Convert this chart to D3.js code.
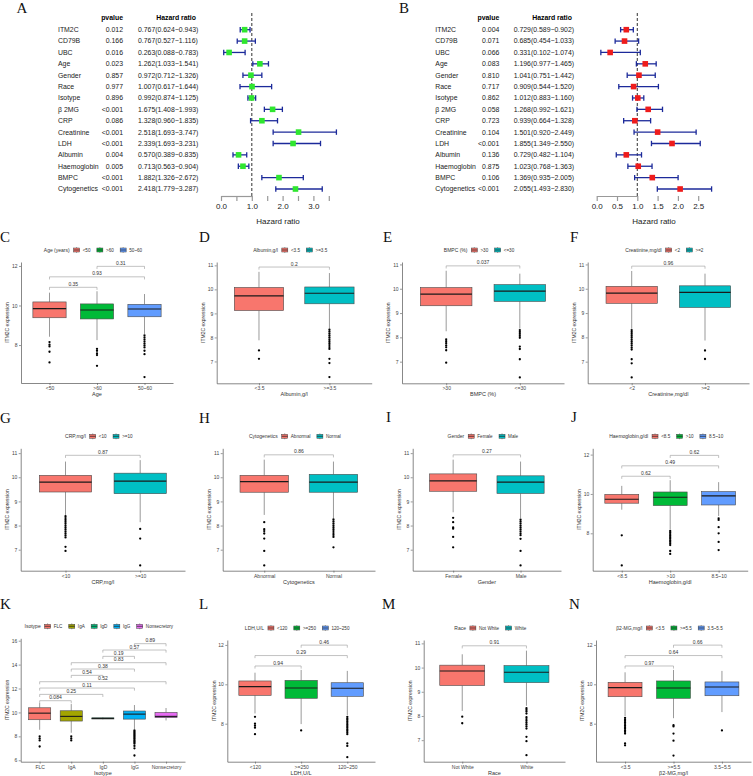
<!DOCTYPE html>
<html>
<head>
<meta charset="utf-8">
<script src="https://cdn.jsdelivr.net/npm/d3@7"></script>
<style>
body { margin: 0; background: #fff; }
text { font-family: "Liberation Sans", Arial, sans-serif; }
</style>
</head>
<body>
<div id="chart"></div>
<script>
// ---------- forest plots (A: univariate, B: multivariate) ----------
var forestVars = ["ITM2C", "CD79B", "UBC", "Age", "Gender", "Race", "Isotype", "\u03b2 2MG",
                  "CRP", "Creatinine", "LDH", "Albumin", "Haemoglobin", "BMPC", "Cytogenetics"];

var uniP  = ["0.012", "0.166", "0.016", "0.023", "0.857", "0.977", "0.896", "<0.001",
             "0.086", "<0.001", "<0.001", "0.004", "0.005", "<0.001", "<0.001"];
var uniHR = [0.767, 0.767, 0.263, 1.262, 0.972, 1.007, 0.992, 1.675, 1.328, 2.518, 2.339, 0.570, 0.713, 1.882, 2.418];
var uniLo = [0.624, 0.527, 0.088, 1.033, 0.712, 0.617, 0.874, 1.408, 0.960, 1.693, 1.693, 0.389, 0.563, 1.326, 1.779];
var uniHi = [0.943, 1.116, 0.783, 1.541, 1.326, 1.644, 1.125, 1.993, 1.835, 3.747, 3.231, 0.835, 0.904, 2.672, 3.287];

var multiP  = ["0.004", "0.071", "0.066", "0.083", "0.810", "0.717", "0.862", "0.058",
               "0.723", "0.104", "<0.001", "0.136", "0.875", "0.106", "<0.001"];
var multiHR = [0.729, 0.685, 0.331, 1.196, 1.041, 0.909, 1.012, 1.268, 0.939, 1.501, 1.855, 0.729, 1.023, 1.369, 2.055];
var multiLo = [0.589, 0.454, 0.102, 0.977, 0.751, 0.544, 0.883, 0.992, 0.664, 0.920, 1.349, 0.482, 0.768, 0.935, 1.493];
var multiHi = [0.902, 1.033, 1.074, 1.465, 1.442, 1.520, 1.160, 1.621, 1.328, 2.449, 2.550, 1.104, 1.363, 2.005, 2.830];

var uniTicks   = [0, 0.5, 1, 1.5, 2, 2.5, 3, 3.5];
var uniLabels  = [0, 1, 2, 3];
var multiTicks = [0, 0.5, 1, 1.5, 2, 2.5];

// ---------- box plots: [lower whisker, q1, median, q3, upper whisker] ----------
var ageCats  = ["<50", ">60", "50~60"];
var ageStats = [[8.42, 9.38, 9.84, 10.18, 10.65], [8.25, 9.32, 9.77, 10.08, 10.72], [8.56, 9.43, 9.82, 10.06, 10.58]];
var ageOut   = [[8.15, 8.02, 7.93, 7.66, 7.12], [7.81, 7.71, 7.58, 7.49, 6.95],
                [8.49, 8.39, 8.29, 8.19, 8.08, 7.98, 7.88, 7.71, 7.54, 6.38]];
var ageCmp   = [["<50", ">60"], ["<50", "50~60"], [">60", "50~60"]];
var ageP     = ["0.35", "0.93", "0.31"];

var albCats  = ["<3.5", ">=3.5"];
var albStats = [[7.88, 9.12, 9.73, 10.08, 10.73], [8.36, 9.40, 9.84, 10.10, 10.68]];
var albOut   = [[7.46, 7.11], [8.32, 8.24, 8.16, 8.08, 8.0, 7.92, 7.84, 7.76, 7.68, 7.6, 7.52, 7.11, 6.93, 6.35]];
var albCmp   = [["<3.5", ">=3.5"]];
var albP     = ["0.2"];

var bmpcCats  = [">30", "<=30"];
var bmpcStats = [[8.25, 9.30, 9.78, 10.05, 10.74], [8.36, 9.48, 9.90, 10.17, 10.62]];
var bmpcOut   = [[7.92, 7.84, 7.76, 7.67, 7.59, 7.47, 6.96], [8.3, 8.22, 8.14, 8.06, 7.98, 7.62, 7.52, 7.1, 6.35]];
var bmpcCmp   = [[">30", "<=30"]];
var bmpcP     = ["0.037"];

var creCats  = ["<2", ">=2"];
var creStats = [[8.35, 9.40, 9.82, 10.10, 10.73], [7.87, 9.23, 9.85, 10.12, 10.62]];
var creOut   = [[8.3, 8.22, 8.14, 8.06, 7.98, 7.9, 7.82, 7.74, 7.66, 7.58, 7.5, 7.1, 6.93, 6.35], [7.46, 7.11]];
var creCmp   = [["<2", ">=2"]];
var creP     = ["0.96"];

var crpCats  = ["<10", ">=10"];
var crpStats = [[8.44, 9.39, 9.80, 10.08, 10.65], [8.14, 9.32, 9.84, 10.17, 10.71]];
var crpOut   = [[8.39, 8.31, 8.23, 8.15, 8.07, 7.99, 7.91, 7.83, 7.75, 7.67, 7.59, 7.51, 7.12, 6.95], [7.86, 7.46, 6.35]];
var crpCmp   = [["<10", ">=10"]];
var crpP     = ["0.87"];

var cytoCats  = ["Abnormal", "Normal"];
var cytoStats = [[8.44, 9.38, 9.82, 10.08, 10.73], [8.30, 9.38, 9.80, 10.12, 10.65]];
var cytoOut   = [[8.14, 7.85, 7.77, 7.67, 7.46, 6.95, 6.35],
                 [8.25, 8.17, 8.09, 8.01, 7.93, 7.85, 7.77, 7.69, 7.61, 7.53, 7.1]];
var cytoCmp   = [["Abnormal", "Normal"]];
var cytoP     = ["0.86"];

var sexCats  = ["Female", "Male"];
var sexStats = [[8.55, 9.42, 9.85, 10.14, 10.73], [8.30, 9.33, 9.80, 10.06, 10.65]];
var sexOut   = [[8.32, 8.14, 7.92, 7.87, 7.53, 7.1],
                [8.24, 8.16, 8.08, 8.0, 7.92, 7.84, 7.76, 7.68, 7.6, 7.45, 6.95, 6.35]];
var sexCmp   = [["Female", "Male"]];
var sexP     = ["0.27"];

var hbCats  = ["<8.5", ">10", "8.5~10"];
var hbStats = [[9.20, 9.53, 9.73, 9.98, 10.41], [8.20, 9.41, 9.83, 10.10, 10.70], [8.88, 9.44, 9.90, 10.12, 10.60]];
var hbOut   = [[7.9, 6.37], [8.12, 8.04, 7.96, 7.88, 7.8, 7.72, 7.64, 7.56, 7.48, 7.4, 7.1, 6.95],
               [8.76, 8.68, 8.31, 8.0, 7.56, 7.15]];
var hbCmp   = [["<8.5", ">10"], ["<8.5", "8.5~10"], [">10", "8.5~10"]];
var hbP     = ["0.62", "0.49", "0.62"];

var isoCats  = ["FLC", "IgA", "IgD", "IgG", "Nonsecretory"];
var isoStats = [[8.55, 9.39, 9.94, 10.39, 10.78], [8.30, 9.28, 9.67, 10.14, 10.70], [9.42, 9.45, 9.50, 9.55, 9.60],
                [8.61, 9.44, 9.86, 10.12, 10.62], [9.33, 9.56, 9.67, 10.0, 10.37]];
var isoOut   = [[8.0, 7.83, 7.66, 7.15], [8.0, 7.83, 7.66], [],
                [8.49, 8.39, 8.29, 8.19, 8.09, 7.99, 7.89, 7.79, 7.69, 7.59, 7.49, 7.39, 7.2, 7.0, 6.4], []];
var isoCmp   = [["FLC", "IgA"], ["FLC", "IgD"], ["FLC", "IgG"], ["FLC", "Nonsecretory"], ["IgA", "IgD"],
                ["IgA", "IgG"], ["IgA", "Nonsecretory"], ["IgD", "IgG"], ["IgD", "Nonsecretory"], ["IgG", "Nonsecretory"]];
var isoP     = ["0.084", "0.25", "0.11", "0.52", "0.54", "0.38", "0.83", "0.19", "0.57", "0.89"];

var ldhCats  = ["<120", ">=250", "120~250"];
var ldhStats = [[8.52, 9.44, 9.88, 10.17, 10.59], [7.98, 9.29, 9.81, 10.20, 10.73], [8.44, 9.39, 9.80, 10.08, 10.68]];
var ldhOut   = [[8.35, 8.0, 7.9, 7.8, 7.47], [7.66],
                [8.35, 8.27, 8.19, 8.11, 8.03, 7.95, 7.87, 7.79, 7.71, 7.63, 7.55, 7.47, 7.0, 6.87, 6.3]];
var ldhCmp   = [["<120", ">=250"], ["<120", "120~250"], [">=250", "120~250"]];
var ldhP     = ["0.94", "0.29", "0.46"];

var raceCats  = ["Not White", "White"];
var raceStats = [[8.21, 9.26, 9.86, 10.10, 10.55], [8.42, 9.38, 9.81, 10.08, 10.70]];
var raceOut   = [[7.97, 7.7], [8.32, 8.25, 8.18, 8.1, 7.95, 7.87, 7.8, 7.72, 7.64, 7.56, 7.48, 7.14, 6.96, 6.38]];
var raceCmp   = [["Not White", "White"]];
var raceP     = ["0.91"];

var b2mCats  = ["<3.5", ">=5.5", "3.5~5.5"];
var b2mStats = [[8.39, 9.37, 9.83, 10.10, 10.61], [8.28, 9.29, 9.81, 10.17, 10.73], [8.59, 9.42, 9.86, 10.12, 10.68]];
var b2mOut   = [[8.3, 8.22, 8.14, 8.06, 7.98, 7.9, 7.82, 7.74, 7.66, 7.58, 7.5, 7.0, 6.9],
                [7.92, 7.86, 7.5, 7.14, 6.38], [7.66]];
var b2mCmp   = [["<3.5", ">=5.5"], ["<3.5", "3.5~5.5"], [">=5.5", "3.5~5.5"]];
var b2mP     = ["0.97", "0.64", "0.66"];

var ticks5  = [7, 8, 9, 10, 11];
var ticks3  = [8, 10, 12];
var ticksK  = [6, 8, 10, 12, 14, 16];

// ---------- layout / style ----------
var W = 753, H = 776;
var pal = {
    2: ["#F8766D", "#00BFC4"],
    3: ["#F8766D", "#00BA38", "#619CFF"],
    5: ["#F8766D", "#A3A500", "#00BF7D", "#00B0F6", "#E76BF3"]
};

var svg = d3.select("#chart").append("svg")
    .attr("width", W).attr("height", H)
    .style("display", "block");

function letter(t, x, y) {
    svg.append("text").attr("x", x).attr("y", y).text(t)
        .style("font-family", "'Liberation Serif', 'Times New Roman', serif")
        .style("font-size", "15px").attr("fill", "#111");
}

function forest(o) {
    var x = d3.scaleLinear().domain([0, 1]).range([o.x0, o.x0 + o.unit]);
    var y = d3.scalePoint().domain(forestVars).range([29.7, 189]);
    var g = svg.append("g");
    var fs = "6.9px";

    g.append("text").attr("x", o.pX).attr("y", 17.5).attr("dy", "0.35em")
        .attr("text-anchor", "end").style("font-size", fs).style("font-weight", "bold").text("pvalue");
    g.append("text").attr("x", o.hrHeadX).attr("y", 17.5).attr("dy", "0.35em")
        .attr("text-anchor", "end").style("font-size", fs).style("font-weight", "bold").text("Hazard ratio");

    var f3 = d3.format(".3f");
    forestVars.forEach(function(v, i) {
        var yy = y(v);
        g.append("text").attr("x", o.nameX).attr("y", yy).attr("dy", "0.35em")
            .style("font-size", fs).attr("fill", "#222").text(v);
        g.append("text").attr("x", o.pX).attr("y", yy).attr("dy", "0.35em")
            .attr("text-anchor", "end").style("font-size", fs).attr("fill", "#222").text(o.p[i]);
        g.append("text").attr("x", o.hrX).attr("y", yy).attr("dy", "0.35em")
            .style("font-size", fs).attr("fill", "#222")
            .text(f3(o.hr[i]) + "(" + f3(o.lo[i]) + "\u2212" + f3(o.hi[i]) + ")");
    });

    // reference line at HR = 1
    g.append("line").attr("x1", x(1)).attr("x2", x(1)).attr("y1", 13).attr("y2", 196)
        .attr("stroke", "#444").attr("stroke-width", 1.1).attr("stroke-dasharray", "3,2");

    var ci = "#1c2a9a";
    forestVars.forEach(function(v, i) {
        var yy = y(v);
        g.append("line").attr("x1", x(o.lo[i])).attr("x2", x(o.hi[i])).attr("y1", yy).attr("y2", yy)
            .attr("stroke", ci).attr("stroke-width", 1.3);
        [o.lo[i], o.hi[i]].forEach(function(e) {
            g.append("line").attr("x1", x(e)).attr("x2", x(e)).attr("y1", yy - 2.7).attr("y2", yy + 2.7)
                .attr("stroke", ci).attr("stroke-width", 1.3);
        });
        g.append("rect").attr("x", x(o.hr[i]) - 2.8).attr("y", yy - 2.8)
            .attr("width", 5.6).attr("height", 5.6).attr("fill", o.color);
    });

    var ax = g.append("g").attr("transform", "translate(0,196)")
        .call(d3.axisBottom(x).tickValues(o.ticks).tickSize(5).tickSizeOuter(0).tickPadding(2)
            .tickFormat(function(d) { return o.labels.indexOf(d) >= 0 ? d3.format(".1f")(d) : ""; }));
    ax.select(".domain").attr("stroke", "#999").attr("stroke-width", 1.2);
    ax.selectAll(".tick line").attr("stroke", "#999").attr("stroke-width", 1.2);
    ax.selectAll(".tick text").style("font-size", "8px").attr("fill", "#222")
        .style("font-family", "'Liberation Sans', Arial, sans-serif");

    g.append("text").attr("x", o.titleX).attr("y", 221).attr("dy", "0.35em")
        .attr("text-anchor", "middle").style("font-size", "8px").attr("fill", "#222").text("Hazard ratio");
}

function boxPanel(d, L) {
    var n = d.cats.length;
    var col = pal[n];
    var x = d3.scalePoint().domain(d.cats).range([L.left, L.right]).padding(0.6);
    var y = d3.scaleLinear().domain(L.dom).range([L.bottom, L.top]);
    var bw = x.step() * 0.7;
    var g = svg.append("g");

    var yAx = g.append("g").attr("transform", "translate(" + L.left + ",0)")
        .call(d3.axisLeft(y).tickValues(d.ticks).tickFormat(d3.format("d"))
            .tickSize(2).tickSizeOuter(0).tickPadding(1.5));
    var xAx = g.append("g").attr("transform", "translate(0," + L.bottom + ")")
        .call(d3.axisBottom(x).tickSize(2).tickSizeOuter(0).tickPadding(1.5));
    [yAx, xAx].forEach(function(a) {
        a.select(".domain").attr("stroke", "#555").attr("stroke-width", 0.7);
        a.selectAll(".tick line").attr("stroke", "#555").attr("stroke-width", 0.6);
        a.selectAll(".tick text").style("font-size", "5px").attr("fill", "#444")
            .style("font-family", "'Liberation Sans', Arial, sans-serif");
    });

    d.cats.forEach(function(c, i) {
        var s = d.stats[i], cx = x(c);
        g.append("line").attr("x1", cx).attr("x2", cx).attr("y1", y(s[0])).attr("y2", y(s[1]))
            .attr("stroke", "#555").attr("stroke-width", 0.6);
        g.append("line").attr("x1", cx).attr("x2", cx).attr("y1", y(s[3])).attr("y2", y(s[4]))
            .attr("stroke", "#555").attr("stroke-width", 0.6);
        g.append("rect").attr("x", cx - bw / 2).attr("y", y(s[3]))
            .attr("width", bw).attr("height", Math.max(0.6, y(s[1]) - y(s[3])))
            .attr("fill", col[i]).attr("stroke", "#4a4a4a").attr("stroke-width", 0.6);
        g.append("line").attr("x1", cx - bw / 2).attr("x2", cx + bw / 2).attr("y1", y(s[2])).attr("y2", y(s[2]))
            .attr("stroke", "#1a1a1a").attr("stroke-width", 1.1);
        g.selectAll(null).data(d.out[i]).enter().append("circle")
            .attr("cx", cx).attr("cy", function(v) { return y(v); })
            .attr("r", 1.15).attr("fill", "#000");
    });

    // significance brackets
    var base = d3.max(d.stats, function(s) { return s[4]; }) + 0.2;
    d.cmp.forEach(function(pair, i) {
        var yp = y(base + i * 0.53);
        var x1 = x(pair[0]), x2 = x(pair[1]);
        g.append("path").attr("d", "M" + x1 + "," + (yp + 2.6) + "V" + yp + "H" + x2 + "V" + (yp + 2.6))
            .attr("fill", "none").attr("stroke", "#999").attr("stroke-width", 0.6);
        g.append("text").attr("x", (x1 + x2) / 2).attr("y", yp - 1.4).attr("text-anchor", "middle")
            .style("font-size", "5px").attr("fill", "#333").text(d.p[i]);
    });

    // axis titles
    g.append("text").attr("transform", "translate(" + (L.left - 13.5) + "," + ((L.top + L.bottom) / 2) + ") rotate(-90)")
        .attr("text-anchor", "middle").attr("dy", "0.35em").style("font-size", "5px").attr("fill", "#333")
        .text("ITM2C  expression");
    g.append("text").attr("x", (L.left + L.right) / 2).attr("y", L.bottom + 11).attr("dy", "0.35em")
        .attr("text-anchor", "middle").style("font-size", "5.5px").attr("fill", "#333").text(d.xTitle);

    // legend
    var lg = g.append("g");
    var lx = 0, ly = L.top - 12;
    var t = lg.append("text").attr("x", lx).attr("y", ly).attr("dy", "0.35em")
        .style("font-size", "5px").attr("fill", "#333").text(d.legTitle);
    lx += t.node().getComputedTextLength() + 3.5;
    d.cats.forEach(function(c, i) {
        var kx = lx + 3.4;
        lg.append("line").attr("x1", kx).attr("x2", kx).attr("y1", ly - 3).attr("y2", ly + 3)
            .attr("stroke", "#555").attr("stroke-width", 0.5);
        lg.append("rect").attr("x", lx + 0.4).attr("y", ly - 2).attr("width", 6).attr("height", 4)
            .attr("fill", col[i]).attr("stroke", "#444").attr("stroke-width", 0.5);
        lg.append("line").attr("x1", lx + 0.4).attr("x2", lx + 6.4).attr("y1", ly).attr("y2", ly)
            .attr("stroke", "#222").attr("stroke-width", 0.7);
        lx += 9.5;
        var lt = lg.append("text").attr("x", lx).attr("y", ly).attr("dy", "0.35em")
            .style("font-size", "4.6px").attr("fill", "#333").text(c);
        lx += lt.node().getComputedTextLength() + 6;
    });
    var lw = lx - 6;
    lg.attr("transform", "translate(" + ((L.left + L.right) / 2 - 4 - lw / 2) + ",0)");

    letter(L.tag, L.tx, L.ty);
}

// ---------- draw ----------
letter("A", 16.5, 13);
letter("B", 399, 13);

forest({ hr: uniHR, lo: uniLo, hi: uniHi, p: uniP, ticks: uniTicks, labels: uniLabels,
         x0: 221, unit: 30.8, nameX: 58, pX: 123, hrX: 138, hrHeadX: 196, titleX: 278, color: "#2fe62f" });

forest({ hr: multiHR, lo: multiLo, hi: multiHi, p: multiP, ticks: multiTicks, labels: multiTicks,
         x0: 596.7, unit: 40.6, nameX: 435.3, pX: 499.3, hrX: 513.7, hrHeadX: 572, titleX: 654, color: "#ee1c1c" });

var panels = [
    [{ cats: ageCats,  stats: ageStats,  out: ageOut,  cmp: ageCmp,  p: ageP,  ticks: ticks3, legTitle: "Age (years)", xTitle: "Age" },
     { tag: "C", tx: 0,   ty: 242, left: 21,    right: 173,   top: 262,   bottom: 383,   dom: [6.08, 12.2] }],
    [{ cats: albCats,  stats: albStats,  out: albOut,  cmp: albCmp,  p: albP,  ticks: ticks5, legTitle: "Albumin,g/l", xTitle: "Albumin,g/l" },
     { tag: "D", tx: 199, ty: 242, left: 216.7, right: 371.7, top: 262,   bottom: 383.3, dom: [6.09, 11.14] }],
    [{ cats: bmpcCats, stats: bmpcStats, out: bmpcOut, cmp: bmpcCmp, p: bmpcP, ticks: ticks5, legTitle: "BMPC (%)", xTitle: "BMPC (%)" },
     { tag: "E", tx: 383, ty: 242, left: 402,   right: 564,   top: 262,   bottom: 383.3, dom: [6.11, 11.1] }],
    [{ cats: creCats,  stats: creStats,  out: creOut,  cmp: creCmp,  p: creP,  ticks: ticks5, legTitle: "Creatinine,mg/dl", xTitle: "Creatinine,mg/dl" },
     { tag: "F", tx: 570, ty: 242, left: 587.7, right: 749,   top: 262,   bottom: 383.3, dom: [6.11, 11.1] }],
    [{ cats: crpCats,  stats: crpStats,  out: crpOut,  cmp: crpCmp,  p: crpP,  ticks: ticks5, legTitle: "CRP,mg/l", xTitle: "CRP,mg/l" },
     { tag: "G", tx: 0,   ty: 423, left: 20.7,  right: 185,   top: 448.3, bottom: 570.7, dom: [6.13, 11.2] }],
    [{ cats: cytoCats, stats: cytoStats, out: cytoOut, cmp: cytoCmp, p: cytoP, ticks: ticks5, legTitle: "Cytogenetics", xTitle: "Cytogenetics" },
     { tag: "H", tx: 199, ty: 423, left: 222.7, right: 375,   top: 448.3, bottom: 570.7, dom: [6.13, 11.2] }],
    [{ cats: sexCats,  stats: sexStats,  out: sexOut,  cmp: sexCmp,  p: sexP,  ticks: ticks5, legTitle: "Gender", xTitle: "Gender" },
     { tag: "I", tx: 386, ty: 422, left: 412.7, right: 561,   top: 448.3, bottom: 570.7, dom: [6.13, 11.2] }],
    [{ cats: hbCats,   stats: hbStats,   out: hbOut,   cmp: hbCmp,   p: hbP,   ticks: ticks3, legTitle: "Haemoglobin,g/dl", xTitle: "Haemoglobin,g/dl" },
     { tag: "J", tx: 571, ty: 422, left: 592.7, right: 747.7, top: 448.3, bottom: 570.7, dom: [6.1, 12.32] }],
    [{ cats: isoCats,  stats: isoStats,  out: isoOut,  cmp: isoCmp,  p: isoP,  ticks: ticksK, legTitle: "Isotype", xTitle: "Isotype" },
     { tag: "K", tx: 0,   ty: 609, left: 20.7,  right: 185,   top: 638.3, bottom: 761.7, dom: [5.88, 16.2] }],
    [{ cats: ldhCats,  stats: ldhStats,  out: ldhOut,  cmp: ldhCmp,  p: ldhP,  ticks: ticks3, legTitle: "LDH,U/L", xTitle: "LDH,U/L" },
     { tag: "L", tx: 199, ty: 609, left: 227.3, right: 375,   top: 640,   bottom: 761.7, dom: [6.07, 12.25] }],
    [{ cats: raceCats, stats: raceStats, out: raceOut, cmp: raceCmp, p: raceP, ticks: ticks5, legTitle: "Race", xTitle: "Race" },
     { tag: "M", tx: 382, ty: 609, left: 423.7, right: 565,   top: 640,   bottom: 761.7, dom: [6.11, 11.14] }],
    [{ cats: b2mCats,  stats: b2mStats,  out: b2mOut,  cmp: b2mCmp,  p: b2mP,  ticks: ticks3, legTitle: "\u03b22-MG,mg/l", xTitle: "\u03b22-MG,mg/l" },
     { tag: "N", tx: 569, ty: 609, left: 596,   right: 751,   top: 640,   bottom: 761.7, dom: [6.07, 12.25] }]
];

panels.forEach(function(p) { boxPanel(p[0], p[1]); });
</script>
</body>
</html>
